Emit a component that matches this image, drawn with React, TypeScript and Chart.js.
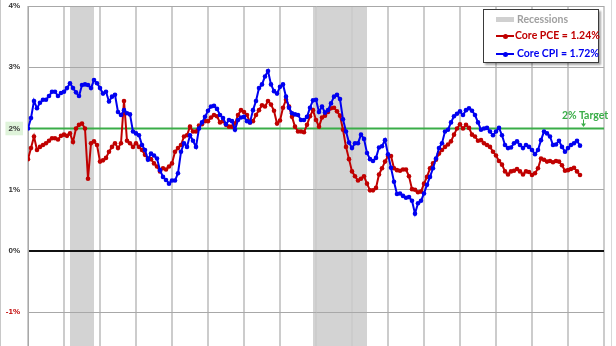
import React, { useEffect, useRef } from 'react';
import { Chart, registerables } from 'chart.js';

Chart.register(...registerables);

// ---- data (monthly YoY %, Jan 2000 onward) ----
const START_YEAR = 2000;

const coreCPI = [
  2.00, 2.17, 2.45, 2.33, 2.42, 2.47, 2.47, 2.53, 2.60, 2.60, 2.53, 2.58,
  2.60, 2.66, 2.74, 2.66, 2.59, 2.53, 2.71, 2.72, 2.71, 2.66, 2.79, 2.74,
  2.66, 2.57, 2.60, 2.44, 2.52, 2.55, 2.27, 2.22, 2.30, 2.25, 2.23, 1.95,
  1.92, 1.89, 1.73, 1.65, 1.49, 1.59, 1.56, 1.51, 1.32, 1.21, 1.16, 1.10,
  1.15, 1.15, 1.27, 1.62, 1.76, 1.70, 1.89, 1.80, 1.70, 2.00, 2.10, 2.19,
  2.29, 2.36, 2.37, 2.32, 2.22, 2.17, 2.07, 2.14, 2.12, 1.98, 2.14, 2.18,
  2.19, 2.12, 2.10, 2.30, 2.45, 2.66, 2.72, 2.85, 2.94, 2.72, 2.61, 2.57,
  2.68, 2.72, 2.52, 2.34, 2.25, 2.23, 2.22, 2.14, 2.14, 2.19, 2.34, 2.46,
  2.47, 2.27, 2.36, 2.26, 2.30, 2.41, 2.52, 2.55, 2.48, 2.15, 1.95, 1.77,
  1.68, 1.76, 1.76, 1.90, 1.83, 1.60, 1.50, 1.47, 1.52, 1.69, 1.71, 1.81,
  1.58, 1.36, 1.13, 0.93, 0.94, 0.90, 0.87, 0.88, 0.82, 0.61, 0.78, 0.82,
  0.94, 1.08, 1.21, 1.35, 1.51, 1.68, 1.76, 1.95, 1.98, 2.10, 2.20, 2.24,
  2.28, 2.22, 2.30, 2.33, 2.29, 2.22, 2.10, 1.98, 2.00, 2.01, 1.95, 1.89,
  1.95, 2.01, 1.89, 1.73, 1.68, 1.69, 1.76, 1.79, 1.73, 1.68, 1.73, 1.70,
  1.65, 1.58, 1.65, 1.81, 1.95, 1.92, 1.87, 1.73, 1.74, 1.80, 1.70, 1.62,
  1.68, 1.73, 1.76, 1.80, 1.72,
];

const corePCE = [
  1.50, 1.68, 1.87, 1.65, 1.70, 1.73, 1.76, 1.80, 1.84, 1.84, 1.82, 1.88,
  1.90, 1.88, 1.92, 1.78, 2.00, 2.06, 2.08, 2.00, 1.18, 1.76, 1.79, 1.73,
  1.46, 1.48, 1.52, 1.62, 1.70, 1.76, 1.68, 1.76, 2.45, 1.80, 1.76, 1.70,
  1.76, 1.70, 1.65, 1.57, 1.51, 1.50, 1.43, 1.38, 1.30, 1.35, 1.33, 1.38,
  1.43, 1.62, 1.68, 1.73, 1.87, 1.89, 2.03, 1.95, 1.95, 2.05, 2.07, 2.12,
  2.12, 2.18, 2.22, 2.20, 2.10, 2.12, 2.06, 2.03, 2.03, 2.08, 2.22, 2.30,
  2.27, 2.22, 2.10, 2.12, 2.22, 2.30, 2.38, 2.36, 2.45, 2.39, 2.29, 2.08,
  2.13, 2.34, 2.47, 2.36, 2.19, 2.03, 1.95, 1.95, 1.94, 2.06, 2.20, 2.30,
  2.14, 2.03, 2.18, 2.21, 2.27, 2.33, 2.34, 2.28, 2.21, 1.98, 1.70, 1.50,
  1.30, 1.22, 1.15, 1.18, 1.22, 1.10, 0.99, 0.99, 1.03, 1.25, 1.35, 1.46,
  1.55, 1.55, 1.35, 1.32, 1.31, 1.33, 1.33, 1.22, 1.01, 1.00, 0.96, 0.97,
  1.10, 1.21, 1.35, 1.43, 1.49, 1.59, 1.65, 1.70, 1.74, 1.79, 1.90, 2.00,
  2.07, 2.00, 2.06, 2.01, 1.90, 1.87, 1.80, 1.81, 1.76, 1.73, 1.70, 1.62,
  1.56, 1.47, 1.41, 1.30, 1.25, 1.30, 1.31, 1.34, 1.30, 1.25, 1.30, 1.29,
  1.24, 1.27, 1.35, 1.51, 1.49, 1.46, 1.47, 1.45, 1.47, 1.46, 1.40, 1.31,
  1.32, 1.34, 1.36, 1.30, 1.24,
];

const recessions: [string, string][] = [
  ['2001-03', '2001-11'],
  ['2007-12', '2009-06'],
];

const targetRate = 2;
const yMin = -2;
const yMax = 4;
const yStep = 1;
const xEndYear = 2016;

const legendRecessions = 'Recessions';
const legendPCE = 'Core PCE = 1.24%';
const legendCPI = 'Core CPI = 1.72%';
const targetLabel = '2% Target';

const monthIndex = (ym: string) => {
  const [y, m] = ym.split('-').map(Number);
  return (y - START_YEAR) * 12 + (m - 1);
};

const RED = '#c00000';
const BLUE = '#0000f0';
const GREEN = '#3aad48';

export default function App() {
  const ref = useRef<HTMLCanvasElement>(null);

  useEffect(() => {
    if (!ref.current) return;

    const recessionPlugin = {
      id: 'recessionBands',
      beforeDraw(chart: any) {
        const { ctx, chartArea, scales } = chart;
        const x = scales.x;
        ctx.save();
        ctx.fillStyle = '#d3d3d3';
        recessions.forEach(([s, e]) => {
          const x0 = x.getPixelForValue(monthIndex(s));
          const x1 = x.getPixelForValue(monthIndex(e));
          ctx.fillRect(x0, chartArea.top, x1 - x0, chartArea.bottom - chartArea.top);
        });
        ctx.restore();
      },
    };

    const arrowPlugin = {
      id: 'targetArrow',
      afterDatasetsDraw(chart: any) {
        const { ctx, scales } = chart;
        const ax = Math.round(scales.x.getPixelForValue(coreCPI.length)) + 0.5;
        const ay = scales.y.getPixelForValue(targetRate);
        ctx.save();
        ctx.strokeStyle = GREEN;
        ctx.fillStyle = GREEN;
        ctx.lineWidth = 1;
        ctx.beginPath();
        ctx.moveTo(ax, ay - 9);
        ctx.lineTo(ax, ay - 4);
        ctx.stroke();
        ctx.beginPath();
        ctx.moveTo(ax - 2.5, ay - 5);
        ctx.lineTo(ax + 2.5, ay - 5);
        ctx.lineTo(ax, ay - 1.5);
        ctx.closePath();
        ctx.fill();
        ctx.restore();
      },
    };

    const chart = new Chart(ref.current, {
      type: 'line',
      data: {
        datasets: [
          {
            label: 'Core CPI',
            data: coreCPI.map((v, i) => ({ x: i, y: v })),
            borderColor: BLUE,
            backgroundColor: BLUE,
            borderWidth: 2,
            pointRadius: 2.3,
            pointBorderWidth: 0,
            pointHoverRadius: 2.3,
            tension: 0,
            order: 0,
          },
          {
            label: 'Core PCE',
            data: corePCE.map((v, i) => ({ x: i, y: v })),
            borderColor: RED,
            backgroundColor: RED,
            borderWidth: 2,
            pointRadius: 2.3,
            pointBorderWidth: 0,
            pointHoverRadius: 2.3,
            tension: 0,
            order: 1,
          },
          {
            label: 'Target',
            data: [
              { x: 0, y: targetRate },
              { x: (xEndYear - START_YEAR) * 12, y: targetRate },
            ],
            borderColor: GREEN,
            borderWidth: 2,
            pointRadius: 0,
            order: 2,
          },
        ],
      },
      options: {
        responsive: false,
        animation: false,
        events: [],
        layout: { padding: { left: 0, right: 12, top: 6, bottom: 6.5 } },
        plugins: {
          legend: { display: false },
          tooltip: { enabled: false },
          title: { display: false },
        },
        scales: {
          x: {
            type: 'linear',
            min: 0,
            max: (xEndYear - START_YEAR) * 12,
            ticks: { stepSize: 12, display: false, autoSkip: false },
            grid: { color: '#cccccc', lineWidth: 2, drawTicks: false },
            border: { display: false },
            afterFit: (scale: any) => {
              scale.height = 0;
              scale.paddingLeft = 0;
              scale.paddingRight = 0;
              scale.paddingTop = 0;
              scale.paddingBottom = 0;
            },
          },
          y: {
            min: yMin,
            max: yMax,
            ticks: {
              stepSize: yStep,
              padding: 8,
              callback: (v: any) => `${v}%`,
              color: (ctx: any) => (ctx.tick && ctx.tick.value < 0 ? RED : '#333333'),
              font: { family: 'Liberation Sans, Arial, sans-serif', size: 8, weight: 'bold' },
              showLabelBackdrop: (ctx: any) => !!ctx.tick && ctx.tick.value === targetRate,
              backdropColor: '#dff3da',
              backdropPadding: { top: 2, bottom: 2, left: 3, right: 3 },
            },
            grid: {
              color: (ctx: any) => (ctx.tick && ctx.tick.value === 0 ? '#111111' : '#a8a8a8'),
              lineWidth: (ctx: any) => (ctx.tick && ctx.tick.value === 0 ? 2 : 1),
              drawTicks: false,
            },
            border: { display: true, color: '#a8a8a8', width: 1 },
            afterFit: (scale: any) => {
              scale.width = 28;
              scale.paddingTop = 0;
              scale.paddingBottom = 0;
            },
          },
        },
      },
      plugins: [recessionPlugin, arrowPlugin],
    } as any);

    return () => chart.destroy();
  }, []);

  const legendFont = 'Lato, "Open Sans", Arial, sans-serif';

  return (
    <div
      style={{
        position: 'fixed',
        left: 0,
        top: 0,
        width: 616,
        height: 346,
        overflow: 'hidden',
        background: '#ffffff',
      }}
    >
      <canvas ref={ref} width={616} height={380} style={{ position: 'absolute', left: 0, top: 0 }} />
      <div style={{ position: 'absolute', left: 0, top: 0, width: 1, height: 346, background: '#c8c8c8' }} />
      <div style={{ position: 'absolute', left: 611, top: 0, width: 1, height: 346, background: '#d8d8d8' }} />
      {/* target label */}
      <div
        style={{
          position: 'absolute',
          left: 562,
          top: 109,
          fontFamily: legendFont,
          fontWeight: 'bold',
          fontSize: 10.5,
          color: GREEN,
          whiteSpace: 'nowrap',
          lineHeight: '12px',
        }}
      >
        {targetLabel}
      </div>
      {/* legend */}
      <div
        style={{
          position: 'absolute',
          left: 483,
          top: 9,
          width: 114,
          height: 52,
          border: '1px solid #3a3a3a',
          background: '#ffffff',
          boxShadow: '2px 2px 2px rgba(0,0,0,0.35)',
          fontFamily: legendFont,
          fontWeight: 'bold',
          fontSize: 10.5,
          whiteSpace: 'nowrap',
        }}
      >
        <div style={{ position: 'absolute', left: 12, top: 7, width: 18, height: 5, background: '#d0d0d0' }} />
        <div style={{ position: 'absolute', left: 33, top: 3, lineHeight: '13px', color: '#a0a0a0' }}>
          {legendRecessions}
        </div>

        <div style={{ position: 'absolute', left: 12, top: 25, width: 18, height: 1.5, background: RED }} />
        <div style={{ position: 'absolute', left: 19, top: 23.5, width: 5, height: 5, borderRadius: 3, background: RED }} />
        <div style={{ position: 'absolute', left: 31, top: 19, lineHeight: '13px', color: RED }}>{legendPCE}</div>

        <div style={{ position: 'absolute', left: 12, top: 43, width: 18, height: 1.5, background: BLUE }} />
        <div style={{ position: 'absolute', left: 19, top: 41.5, width: 5, height: 5, borderRadius: 3, background: BLUE }} />
        <div style={{ position: 'absolute', left: 33, top: 37, lineHeight: '13px', color: BLUE }}>{legendCPI}</div>
      </div>
    </div>
  );
}
